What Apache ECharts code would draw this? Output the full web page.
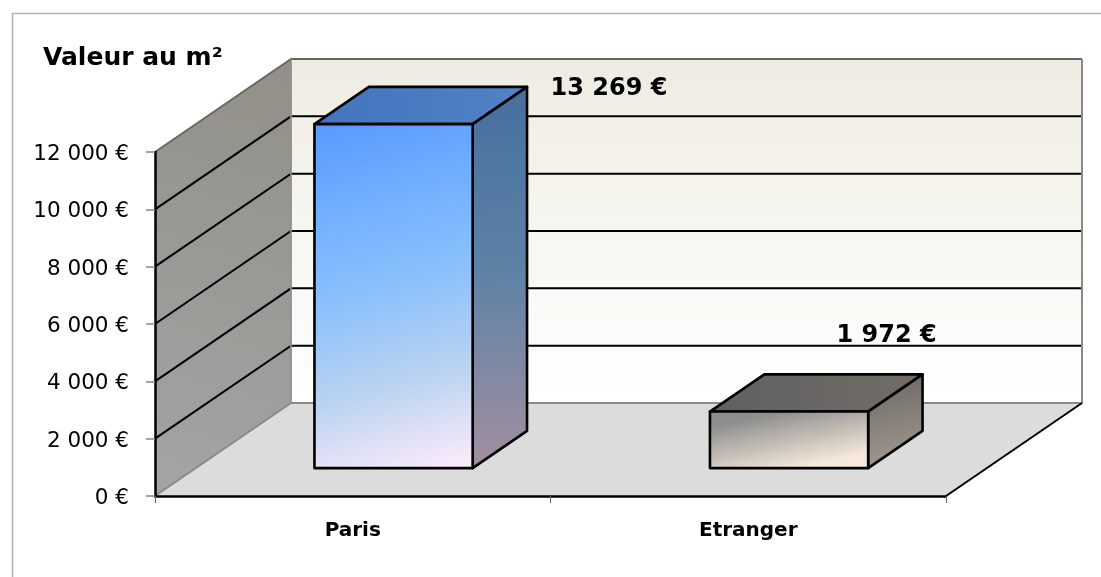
<!DOCTYPE html>
<html>
<head>
<meta charset="utf-8">
<style>html,body{margin:0;padding:0;background:#fff}#chart{width:1101px;height:577px}</style>
<script src="https://cdn.jsdelivr.net/npm/echarts@6/dist/echarts.min.js"></script>
</head>
<body>
<div id="chart"></div>
<script>
// Price per square metre, drawn as a pseudo-3D column chart.
const categories = ['Paris', 'Etranger'];
const pricePerSqm = [13269, 1972];
const yTicks = [0, 2000, 4000, 6000, 8000, 10000, 12000];
const chartTitle = 'Valeur au m²';

const AXIS_MAX = 12000;
const FONT = '"DejaVu Sans", sans-serif';
// Receding direction of the floor, in pixels, from the front plane to the back wall.
const DEPTH = { x: 136, y: -93 };
// Columns occupy this slice of the floor, both across a category and in depth.
const BAR_WIDTH_SHARE = 0.4;
const BAR_DEPTH_FROM = 0.3;
const BAR_DEPTH_TO = 0.7;

const euro = v => String(v).replace(/\B(?=(\d{3})+$)/g, ' ') + ' €';
// Linear gradient from evenly spaced colour stops.
const grad = (x0, y0, x1, y1, ...colors) => new echarts.graphic.LinearGradient(
  x0, y0, x1, y1,
  colors.map((color, i) => ({ offset: i / (colors.length - 1), color }))
);
const shift = (p, t) => [p[0] + DEPTH.x * t, p[1] + DEPTH.y * t];

// Per-column face colours.
const barFaces = [
  {
    front: () => grad(0.2, 0, 0.8, 1, '#5a9bff', '#73b1ff', '#8fc2fb', '#bcd4f0', '#fbeafb'),
    top: () => grad(0, 0.5, 1, 0.5, '#4374bd', '#5283c6'),
    side: () => grad(0.3, 0, 0.7, 1, '#456f9f', '#5f83a6', '#a48f9f')
  },
  {
    front: () => grad(0.46, 0, 0.54, 1, '#8d8d8d', '#c2bbb3', '#f6e9dc'),
    top: () => grad(0, 0.5, 1, 0.5, '#606060', '#726d68'),
    side: () => grad(0.3, 0, 0.7, 1, '#6a6865', '#a69b90')
  }
];
// Value label centres, measured from each column's back-top-right corner.
const labelOffsets = [[82, 2], [-36, -39]];

function renderRoom(params, api) {
  const band = api.size([1, 0])[0];
  const left = api.coord([0, 0])[0] - band / 2;
  const right = left + band * categories.length;
  const yOf = v => api.coord([0, v])[1];
  const y0 = yOf(0);
  const yTop = yOf(AXIS_MAX);
  const fl = [left, y0], fr = [right, y0];
  const tl = [left, yTop];
  const children = [
    // back wall
    { type: 'polygon', shape: { points: [shift(tl, 1), [right + DEPTH.x, yTop + DEPTH.y], shift(fr, 1), shift(fl, 1)] },
      style: { fill: grad(0, 0, 0, 1, '#eeece1', '#ffffff') } },
    // side wall
    { type: 'polygon', shape: { points: [tl, shift(tl, 1), shift(fl, 1), fl] },
      style: { fill: grad(1, 0, 0, 1, '#918f87', '#a4a4a4') } },
    // floor
    { type: 'polygon', shape: { points: [fl, fr, shift(fr, 1), shift(fl, 1)] },
      style: { fill: '#dcdcdc' } }
  ];
  yTicks.forEach(v => {
    const y = yOf(v);
    if (v === 0 || v === AXIS_MAX) return;
    children.push({ type: 'polyline', shape: { points: [[left, y], shift([left, y], 1), shift([right, y], 1)] },
      style: { fill: 'none', stroke: '#000', lineWidth: 2 } });
  });
  // wall outlines
  children.push(
    { type: 'polyline', shape: { points: [tl, shift(tl, 1), shift([right, yTop], 1)] },
      style: { fill: 'none', stroke: '#666', lineWidth: 1.8 } },
    { type: 'polyline', shape: { points: [shift([right, yTop], 1), shift(fr, 1), shift(fl, 1), fl] },
      style: { fill: 'none', stroke: '#8a8a8a', lineWidth: 2 } },
    { type: 'line', shape: { x1: shift(fl, 1)[0], y1: shift(fl, 1)[1], x2: shift(tl, 1)[0], y2: shift(tl, 1)[1] },
      style: { stroke: '#8f8f8f', lineWidth: 1.8 } },
    { type: 'line', shape: { x1: fr[0], y1: fr[1], x2: shift(fr, 1)[0], y2: shift(fr, 1)[1] },
      style: { stroke: '#000', lineWidth: 2 } }
  );
  return { type: 'group', children };
}

function renderBar(params, api) {
  const idx = api.value(0);
  const value = api.value(1);
  const band = api.size([1, 0])[0];
  const cx = api.coord([idx, 0])[0];
  const half = band * BAR_WIDTH_SHARE / 2;
  const y0 = api.coord([idx, 0])[1];
  // Columns taller than the axis are cut off at its maximum.
  const yV = api.coord([idx, Math.min(value, AXIS_MAX)])[1];
  const bl = shift([cx - half, y0], BAR_DEPTH_FROM);
  const br = shift([cx + half, y0], BAR_DEPTH_FROM);
  const tl = shift([cx - half, yV], BAR_DEPTH_FROM);
  const tr = shift([cx + half, yV], BAR_DEPTH_FROM);
  const span = BAR_DEPTH_TO - BAR_DEPTH_FROM;
  const edge = { stroke: '#000', lineWidth: 2.6, lineJoin: 'round' };
  const faces = barFaces[idx];
  const tbr = shift(tr, span);
  return {
    type: 'group',
    children: [
      { type: 'polygon', shape: { points: [tl, tr, shift(tr, span), shift(tl, span)] },
        style: Object.assign({ fill: faces.top() }, edge) },
      { type: 'polygon', shape: { points: [tr, br, shift(br, span), shift(tr, span)] },
        style: Object.assign({ fill: faces.side() }, edge) },
      { type: 'polygon', shape: { points: [tl, tr, br, bl] },
        style: Object.assign({ fill: faces.front() }, edge) },
      { type: 'text',
        style: {
          x: tbr[0] + labelOffsets[idx][0],
          y: tbr[1] + labelOffsets[idx][1],
          text: euro(value),
          fill: '#000',
          font: 'bold 24px ' + FONT,
          align: 'center',
          verticalAlign: 'middle'
        } }
    ]
  };
}

const chart = echarts.init(document.getElementById('chart'), null, { renderer: 'canvas' });
chart.setOption({
  animation: false,
  backgroundColor: '#ffffff',
  title: {
    text: chartTitle,
    left: 38,
    top: 41,
    textStyle: { fontFamily: FONT, fontWeight: 'bold', fontSize: 25, color: '#000' }
  },
  grid: { left: 155, right: 155, top: 152, bottom: 81, containLabel: false },
  xAxis: {
    type: 'category',
    data: categories,
    z: 6,
    axisLine: { lineStyle: { color: '#000', width: 2.5 } },
    axisTick: { show: true, length: 7, lineStyle: { color: '#666', width: 1 } },
    axisLabel: { margin: 25, fontFamily: FONT, fontWeight: 'bold', fontSize: 20, color: '#000' }
  },
  yAxis: {
    type: 'value',
    min: 0,
    max: AXIS_MAX,
    interval: 2000,
    z: 6,
    splitLine: { show: false },
    axisLine: { show: true, lineStyle: { color: '#000', width: 2.5 } },
    axisTick: { show: true, length: 9, lineStyle: { color: '#888', width: 1.5 } },
    // A short line box aligned to the top nudges each label just below its tick.
    axisLabel: { margin: 26, verticalAlign: 'top', lineHeight: 5, fontFamily: FONT, fontSize: 21.5, color: '#000', formatter: euro }
  },
  graphic: [
    { type: 'polyline', z: 0, shape: { points: [[12.5, 577], [12.5, 13.5], [1101, 13.5]] },
      style: { fill: 'none', stroke: '#b0b0b0', lineWidth: 1.5 } }
  ],
  series: [
    { type: 'custom', name: 'room', coordinateSystem: 'cartesian2d', z: 1, silent: true,
      renderItem: renderRoom, data: [[0, 0]] },
    { type: 'custom', name: 'Valeur au m²', coordinateSystem: 'cartesian2d', z: 3,
      renderItem: renderBar, data: pricePerSqm.map((v, i) => [i, v]) }
  ]
});
</script>
</body>
</html>
